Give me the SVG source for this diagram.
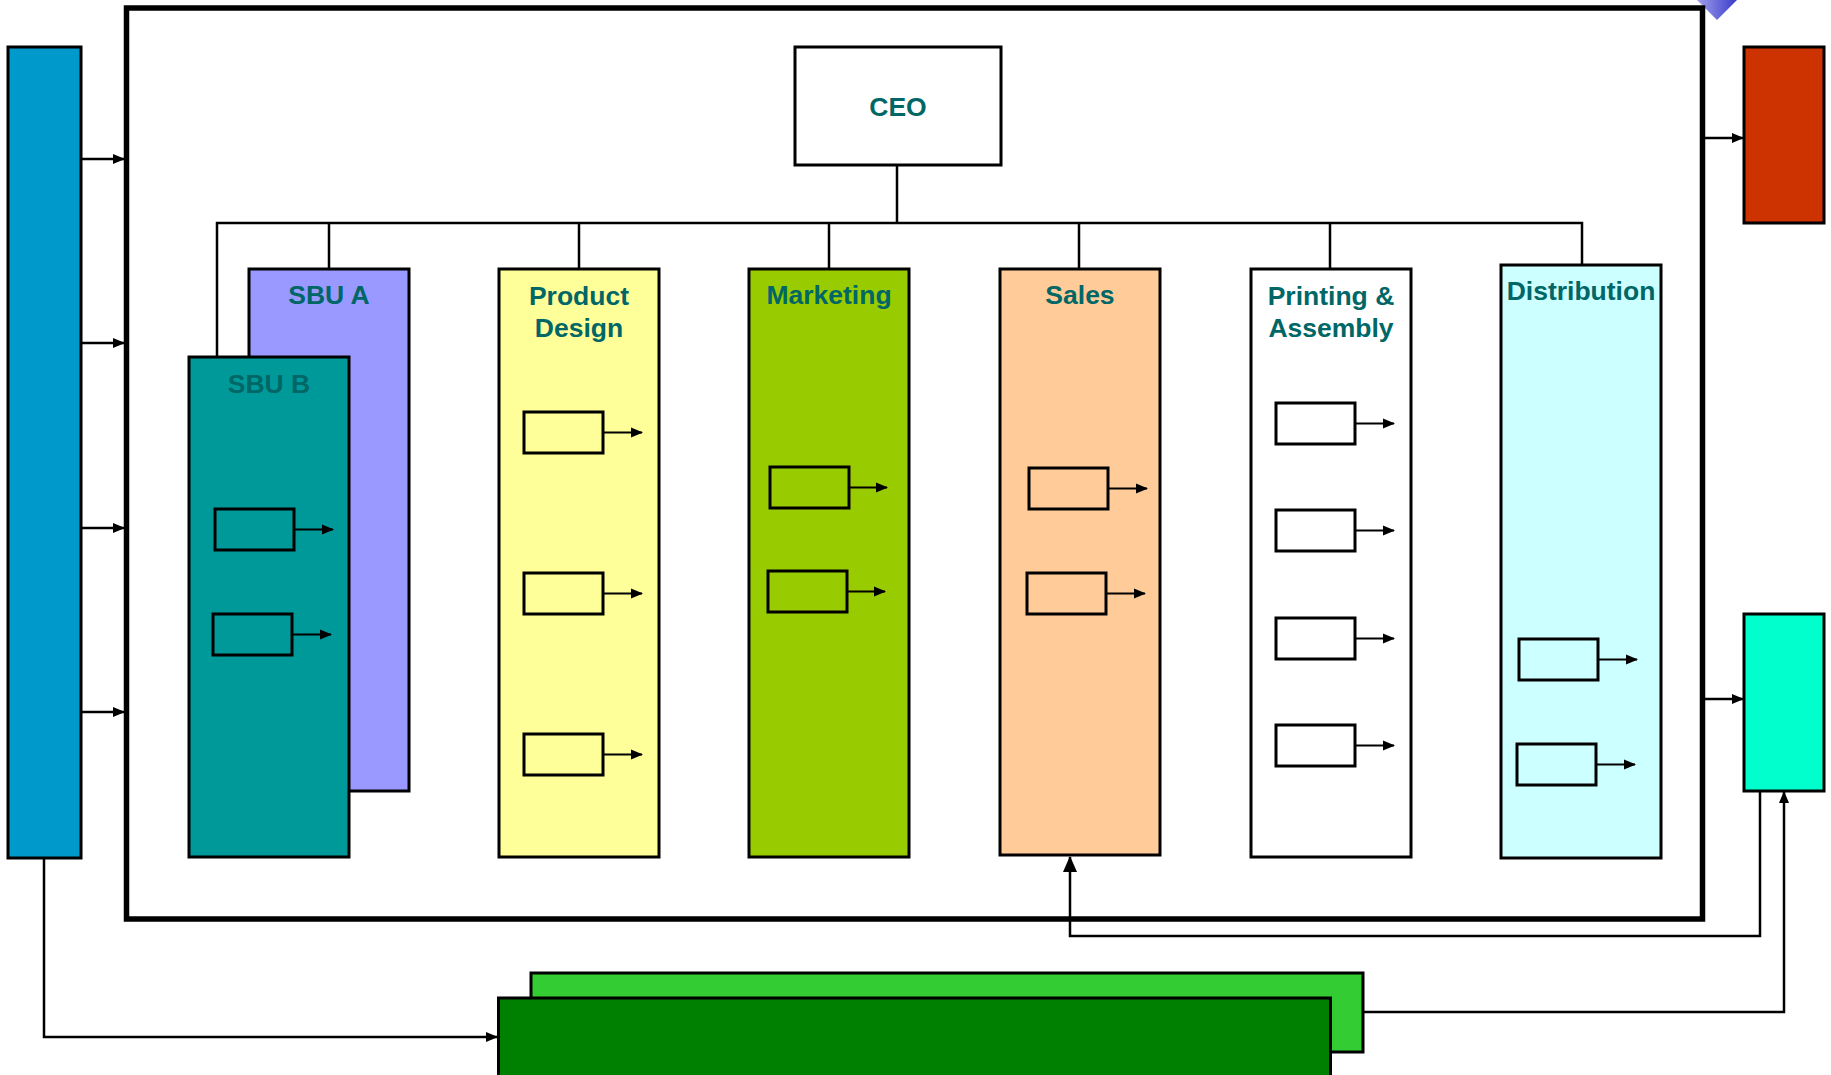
<svg xmlns="http://www.w3.org/2000/svg" width="1831" height="1075" viewBox="0 0 1831 1075">
  <style>
    .node { stroke: #000; stroke-width: 3; }
    .box { fill: none; stroke: #000; stroke-width: 3; }
    .line { fill: none; stroke: #000; stroke-width: 2.5; }
    .thin { fill: none; stroke: #000; stroke-width: 2; }
    .label { font-family: "Liberation Sans", Arial, sans-serif; font-weight: bold; font-size: 26.5px; fill: #006666; text-anchor: middle; }
  </style>
  <defs>
    <marker id="arrow" markerUnits="userSpaceOnUse" markerWidth="12" markerHeight="12" viewBox="0 0 12 12" refX="11" refY="6" orient="auto">
      <path d="M0,1 L12,6 L0,11 Z" fill="#000"/>
    </marker>
    <marker id="arrowBig" markerUnits="userSpaceOnUse" markerWidth="16" markerHeight="16" viewBox="0 0 16 16" refX="15" refY="8" orient="auto">
      <path d="M0,1 L16,8 L0,15 Z" fill="#000"/>
    </marker>
    <linearGradient id="violet" x1="0" y1="0" x2="1" y2="0">
      <stop offset="0" stop-color="#A0A0EE"/>
      <stop offset="1" stop-color="#3A3AC8"/>
    </linearGradient>
  </defs>

  <rect width="1831" height="1075" fill="#fff"/>

  <!-- corner ornament -->
  <polygon points="1697,0 1737,0 1717,20" fill="url(#violet)"/>

  <!-- organisation boundary -->
  <rect id="frame" x="126.5" y="8" width="1576" height="911" fill="none" stroke="#000" stroke-width="5.5"/>

  <!-- left input bar -->
  <g id="input-bar">
    <rect class="node" x="8" y="47" width="73" height="811" fill="#0099CC"/>
  </g>

  <!-- right output boxes -->
  <g id="output-red">
    <rect class="node" x="1744" y="47" width="80" height="176" fill="#CC3300"/>
  </g>
  <g id="output-cyan">
    <rect class="node" x="1744" y="614" width="80" height="177" fill="#00FFCC"/>
  </g>

  <!-- bottom green boxes -->
  <g id="green-back">
    <rect class="node" x="531" y="973" width="832" height="79" fill="#33CC33"/>
  </g>
  <g id="green-front">
    <rect class="node" x="498.5" y="998" width="832" height="90" fill="#008000"/>
  </g>

  <!-- CEO -->
  <g id="ceo">
    <rect class="node" x="795" y="47" width="206" height="118" fill="#fff"/>
    <text class="label" x="898" y="116">CEO</text>
  </g>

  <!-- hierarchy connectors -->
  <g id="connectors">
    <path class="line" d="M897,165 V223"/>
    <path class="line" d="M217,357 V223 H1582 V265"/>
    <path class="line" d="M329,223 V269"/>
    <path class="line" d="M579,223 V269"/>
    <path class="line" d="M829,223 V269"/>
    <path class="line" d="M1079,223 V269"/>
    <path class="line" d="M1330,223 V269"/>

    <!-- inputs from the left bar -->
    <path class="line" d="M81,159 H124" marker-end="url(#arrow)"/>
    <path class="line" d="M81,343 H124" marker-end="url(#arrow)"/>
    <path class="line" d="M81,528 H124" marker-end="url(#arrow)"/>
    <path class="line" d="M81,712 H124" marker-end="url(#arrow)"/>
    <path class="line" d="M44,858 V1037 H497" marker-end="url(#arrow)"/>

    <!-- outputs to the right -->
    <path class="line" d="M1705,138 H1743" marker-end="url(#arrow)"/>
    <path class="line" d="M1705,699 H1743" marker-end="url(#arrow)"/>

    <!-- feedback loops -->
    <path class="line" d="M1760,791 V936 H1070 V857" marker-end="url(#arrowBig)"/>
    <path class="line" d="M1363,1012 H1784 V792" marker-end="url(#arrow)"/>
  </g>

  <!-- SBU A -->
  <g id="sbu-a">
    <rect class="node" x="249" y="269" width="160" height="522" fill="#9999FF"/>
    <text class="label" x="329" y="304">SBU A</text>
  </g>

  <!-- SBU B -->
  <g id="sbu-b">
    <rect class="node" x="189" y="357" width="160" height="500" fill="#009999"/>
    <text class="label" x="269" y="393">SBU B</text>
    <rect class="box" x="215" y="509" width="79" height="41"/>
    <path class="thin" d="M294,529.5 H333" marker-end="url(#arrow)"/>
    <rect class="box" x="213" y="614" width="79" height="41"/>
    <path class="thin" d="M292,634.5 H331" marker-end="url(#arrow)"/>
  </g>

  <!-- Product Design -->
  <g id="product-design">
    <rect class="node" x="499" y="269" width="160" height="588" fill="#FFFF99"/>
    <text class="label" x="579" y="305">Product</text>
    <text class="label" x="579" y="337">Design</text>
    <rect class="box" x="524" y="412" width="79" height="41"/>
    <path class="thin" d="M603,432.5 H642" marker-end="url(#arrow)"/>
    <rect class="box" x="524" y="573" width="79" height="41"/>
    <path class="thin" d="M603,593.5 H642" marker-end="url(#arrow)"/>
    <rect class="box" x="524" y="734" width="79" height="41"/>
    <path class="thin" d="M603,754.5 H642" marker-end="url(#arrow)"/>
  </g>

  <!-- Marketing -->
  <g id="marketing">
    <rect class="node" x="749" y="269" width="160" height="588" fill="#99CC00"/>
    <text class="label" x="829" y="304">Marketing</text>
    <rect class="box" x="770" y="467" width="79" height="41"/>
    <path class="thin" d="M849,487.5 H887" marker-end="url(#arrow)"/>
    <rect class="box" x="768" y="571" width="79" height="41"/>
    <path class="thin" d="M847,591.5 H885" marker-end="url(#arrow)"/>
  </g>

  <!-- Sales -->
  <g id="sales">
    <rect class="node" x="1000" y="269" width="160" height="586" fill="#FFCC99"/>
    <text class="label" x="1080" y="304">Sales</text>
    <rect class="box" x="1029" y="468" width="79" height="41"/>
    <path class="thin" d="M1108,488.5 H1147" marker-end="url(#arrow)"/>
    <rect class="box" x="1027" y="573" width="79" height="41"/>
    <path class="thin" d="M1106,593.5 H1145" marker-end="url(#arrow)"/>
  </g>

  <!-- Printing & Assembly -->
  <g id="printing-assembly">
    <rect class="node" x="1251" y="269" width="160" height="588" fill="#fff"/>
    <text class="label" x="1331" y="305">Printing &amp;</text>
    <text class="label" x="1331" y="337">Assembly</text>
    <rect class="box" x="1276" y="403" width="79" height="41"/>
    <path class="thin" d="M1355,423.5 H1394" marker-end="url(#arrow)"/>
    <rect class="box" x="1276" y="510" width="79" height="41"/>
    <path class="thin" d="M1355,530.5 H1394" marker-end="url(#arrow)"/>
    <rect class="box" x="1276" y="618" width="79" height="41"/>
    <path class="thin" d="M1355,638.5 H1394" marker-end="url(#arrow)"/>
    <rect class="box" x="1276" y="725" width="79" height="41"/>
    <path class="thin" d="M1355,745.5 H1394" marker-end="url(#arrow)"/>
  </g>

  <!-- Distribution -->
  <g id="distribution">
    <rect class="node" x="1501" y="265" width="160" height="593" fill="#CCFFFF"/>
    <text class="label" x="1581" y="300">Distribution</text>
    <rect class="box" x="1519" y="639" width="79" height="41"/>
    <path class="thin" d="M1598,659.5 H1637" marker-end="url(#arrow)"/>
    <rect class="box" x="1517" y="744" width="79" height="41"/>
    <path class="thin" d="M1596,764.5 H1635" marker-end="url(#arrow)"/>
  </g>
</svg>
